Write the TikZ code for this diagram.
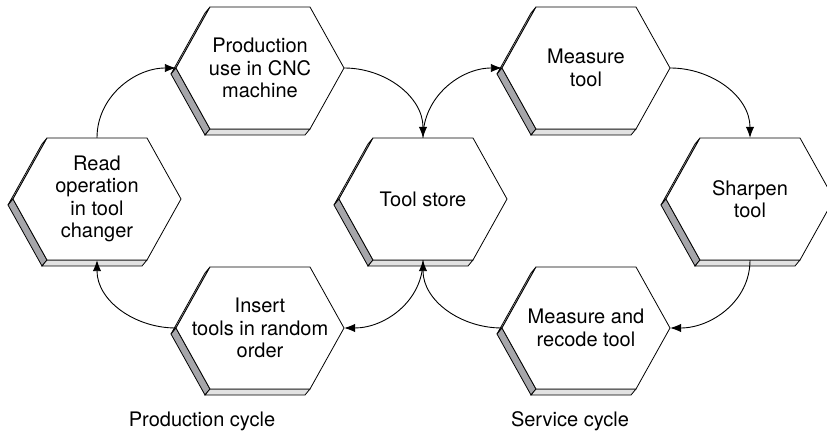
\documentclass[tikz,border=0pt]{standalone}
\usepackage{fontspec}
\setmainfont{TeX Gyre Heros}
\usetikzlibrary{arrows.meta}
\definecolor{darkface}{RGB}{166,166,170}
\definecolor{lightface}{RGB}{226,226,226}
\tikzset{
  hexline/.style={draw=black,line width=0.8pt,line join=miter},
  hexlabel/.style={inner sep=0pt,minimum width=168pt,minimum height=122pt,align=center,
    font=\fontsize{20}{22.5}\selectfont},
  conn/.style={draw=black,line width=0.9pt,-{Latex[length=11pt,width=8.5pt]}},
  caption/.style={font=\fontsize{20}{22.5}\selectfont,inner sep=0pt}
}
\newcommand\hexnode[4]{%
  \begin{scope}[shift={(#2,#3)}]
    \filldraw[hexline,fill=white] (-84,0) -- (-50,61) -- (-55,55) -- (-89,-6) -- cycle;
    \filldraw[hexline,fill=darkface] (-84,0) -- (-50,-61) -- (-55,-67) -- (-89,-6) -- cycle;
    \filldraw[hexline,fill=lightface] (-50,-61) -- (50,-61) -- (45,-67) -- (-55,-67) -- cycle;
    \filldraw[hexline,fill=white] (-84,0) -- (-50,61) -- (50,61) -- (84,0) -- (50,-61) -- (-50,-61) -- cycle;
  \end{scope}
  \node[hexlabel] (#1) at (#2,#3) {#4};
}
\begin{document}
\begin{tikzpicture}[x=1pt,y=1pt]
\useasboundingbox (0,0) rectangle (827,-435);
\clip (0,0) rectangle (827,-435);
\hexnode{read}{97}{-199}{Read\\operation\\in tool\\changer}
\hexnode{prod}{260}{-68}{Production\\use in CNC\\machine}
\hexnode{insert}{260}{-328}{Insert\\tools in random\\order}
\hexnode{store}{423}{-199}{Tool store}
\hexnode{meas}{586}{-68}{Measure\\tool}
\hexnode{recode}{586}{-328}{Measure and\\recode tool}
\hexnode{sharp}{750}{-199}{Sharpen\\tool}

\draw[conn] (read.north) to[out=90,in=180] (prod.west);
\draw[conn] (prod.east) to[out=0,in=90] (store.north);
\draw[conn] (store.north) to[out=90,in=180] (meas.west);
\draw[conn] (meas.east) to[out=0,in=90] (sharp.north);
\draw[conn] (sharp.south) to[out=270,in=0] (recode.east);
\draw[conn] (recode.west) to[out=180,in=270] (store.south);
\draw[conn] (store.south) to[out=270,in=0] (insert.east);
\draw[conn] (insert.west) to[out=180,in=270] (read.south);

\node[caption] (pcyc) at (202,-421) {Production cycle};
\node[caption] (scyc) at (570,-421) {Service cycle};
\end{tikzpicture}
\end{document}
